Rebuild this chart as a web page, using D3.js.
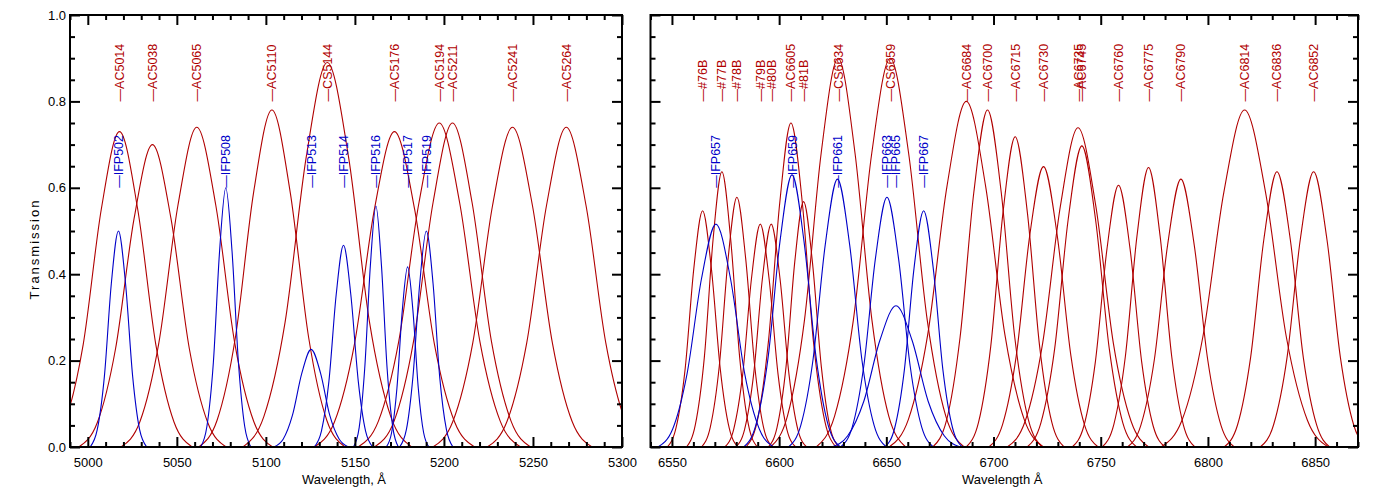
<!DOCTYPE html>
<html>
<head>
<meta charset="utf-8">
<script src="https://cdn.jsdelivr.net/npm/d3@7"></script>
<style>
    body { margin: 0; background: #fff; }
    svg { display: block; font-family: 'Liberation Sans', Arial, sans-serif; }
    .tick text { font-size: 13px; fill: #000; }
    .tick line { stroke: #000; stroke-width: 2; }
    .label { font-size: 12.5px; }
    .title { font-size: 13px; fill: #000; }
</style>
</head>
<body>
<svg id="chart" width="1400" height="500"></svg>
<script>
const yTicks = [0, 0.2, 0.4, 0.6, 0.8, 1.0];
const leftTicks = [5000, 5050, 5100, 5150, 5200, 5250, 5300];
const rightTicks = [6550, 6600, 6650, 6700, 6750, 6800, 6850];

const leftFilters = ['AC5014', 'AC5038', 'AC5065', 'AC5110', 'CS5144', 'AC5176', 'AC5194', 'AC5211', 'AC5241', 'AC5264',
    'IFP502', 'IFP508', 'IFP513', 'IFP514', 'IFP516', 'IFP517', 'IFP519'];
const leftWave = [
    [4977.0, 4987.2, 4997.4, 5007.6, 5017.8, 5028.0, 5038.2, 5048.4, 5058.6],
    [4994.9, 5005.3, 5015.6, 5026.0, 5036.3, 5046.7, 5057.0, 5067.4, 5077.7],
    [5018.6, 5029.3, 5039.9, 5050.6, 5061.2, 5071.9, 5082.5, 5093.2, 5103.8],
    [5062.3, 5072.6, 5082.9, 5093.1, 5103.4, 5113.7, 5124.0, 5134.2, 5144.5],
    [5087.1, 5098.9, 5110.8, 5122.7, 5134.5, 5146.4, 5158.2, 5170.1, 5181.9],
    [5127.2, 5138.5, 5149.7, 5161.0, 5172.2, 5183.5, 5194.7, 5206.0, 5217.2],
    [5151.8, 5163.2, 5174.6, 5186.0, 5197.4, 5208.8, 5220.2, 5231.6, 5243.0],
    [5161.0, 5172.0, 5182.9, 5193.9, 5204.8, 5215.8, 5226.7, 5237.7, 5248.6],
    [5193.8, 5205.0, 5216.2, 5227.3, 5238.5, 5249.7, 5260.9, 5272.0, 5283.2],
    [5224.3, 5235.4, 5246.5, 5257.6, 5268.7, 5279.8, 5290.9, 5302.0, 5313.1],
    [5001.3, 5005.3, 5009.3, 5013.2, 5017.2, 5021.2, 5025.2, 5029.1, 5033.1],
    [5063.4, 5066.9, 5070.5, 5074.0, 5077.5, 5081.0, 5084.6, 5088.1, 5091.6],
    [5104.4, 5109.7, 5114.9, 5120.2, 5125.4, 5130.7, 5135.9, 5141.2, 5146.4],
    [5127.1, 5131.2, 5135.4, 5139.5, 5143.6, 5147.7, 5151.9, 5156.0, 5160.1],
    [5149.2, 5152.4, 5155.5, 5158.7, 5161.8, 5164.9, 5168.1, 5171.3, 5174.4],
    [5167.6, 5170.6, 5173.6, 5176.6, 5179.6, 5182.6, 5185.6, 5188.6, 5191.6],
    [5175.1, 5178.9, 5182.6, 5186.4, 5190.1, 5193.9, 5197.6, 5201.4, 5205.1]
];
const leftTrans = [
    [0, 0.058, 0.237, 0.551, 0.73, 0.551, 0.237, 0.058, 0],
    [0, 0.056, 0.228, 0.529, 0.70, 0.529, 0.228, 0.056, 0],
    [0, 0.059, 0.241, 0.559, 0.74, 0.559, 0.241, 0.059, 0],
    [0, 0.062, 0.254, 0.589, 0.78, 0.589, 0.254, 0.062, 0],
    [0, 0.071, 0.289, 0.672, 0.89, 0.672, 0.289, 0.071, 0],
    [0, 0.058, 0.237, 0.551, 0.73, 0.551, 0.237, 0.058, 0],
    [0, 0.060, 0.244, 0.566, 0.75, 0.566, 0.244, 0.060, 0],
    [0, 0.060, 0.244, 0.566, 0.75, 0.566, 0.244, 0.060, 0],
    [0, 0.059, 0.241, 0.559, 0.74, 0.559, 0.241, 0.059, 0],
    [0, 0.059, 0.241, 0.559, 0.74, 0.559, 0.241, 0.059, 0],
    [0, 0.040, 0.163, 0.378, 0.50, 0.378, 0.163, 0.040, 0],
    [0, 0.048, 0.195, 0.453, 0.60, 0.453, 0.195, 0.048, 0],
    [0, 0.018, 0.073, 0.171, 0.226, 0.171, 0.073, 0.018, 0],
    [0, 0.037, 0.152, 0.353, 0.467, 0.353, 0.152, 0.037, 0],
    [0, 0.045, 0.181, 0.421, 0.558, 0.421, 0.181, 0.045, 0],
    [0, 0.033, 0.136, 0.315, 0.417, 0.315, 0.136, 0.033, 0],
    [0, 0.040, 0.163, 0.378, 0.50, 0.378, 0.163, 0.040, 0]
];

const rightFilters = ['#76B', '#77B', '#78B', '#79B', '#80B', 'AC6605', '#81B', 'CS6634', 'CS6659', 'AC6684', 'AC6700',
    'AC6715', 'AC6730', 'AC6735', 'AC6745', 'AC6760', 'AC6775', 'AC6790', 'AC6814', 'AC6836', 'AC6852',
    'IFP657', 'IFP659', 'IFP661', 'IFP663', 'IFP665', 'IFP667'];
const rightWave = [
    [6547.8, 6551.9, 6556.1, 6560.2, 6564.3, 6568.4, 6572.6, 6576.7, 6580.8],
    [6556.8, 6560.9, 6565.1, 6569.2, 6573.3, 6577.4, 6581.6, 6585.7, 6589.8],
    [6563.8, 6567.9, 6572.1, 6576.2, 6580.3, 6584.4, 6588.6, 6592.7, 6596.8],
    [6574.7, 6578.8, 6583.0, 6587.1, 6591.2, 6595.3, 6599.5, 6603.6, 6607.7],
    [6579.8, 6583.9, 6588.1, 6592.2, 6596.3, 6600.4, 6604.6, 6608.7, 6612.8],
    [6584.5, 6589.8, 6595.0, 6600.3, 6605.5, 6610.8, 6616.0, 6621.3, 6626.5],
    [6594.9, 6599.0, 6603.2, 6607.3, 6611.4, 6615.5, 6619.7, 6623.8, 6627.9],
    [6596.0, 6603.9, 6611.8, 6619.6, 6627.5, 6635.4, 6643.3, 6651.1, 6659.0],
    [6617.3, 6625.9, 6634.6, 6643.2, 6651.8, 6660.4, 6669.1, 6677.7, 6686.3],
    [6651.3, 6660.3, 6669.3, 6678.3, 6687.3, 6696.3, 6705.3, 6714.3, 6723.3],
    [6671.7, 6678.1, 6684.4, 6690.8, 6697.2, 6703.6, 6709.9, 6716.3, 6722.7],
    [6687.3, 6693.0, 6698.7, 6704.4, 6710.1, 6715.8, 6721.5, 6727.2, 6732.9],
    [6697.8, 6704.2, 6710.6, 6716.9, 6723.3, 6729.7, 6736.1, 6742.4, 6748.8],
    [6706.4, 6714.7, 6722.9, 6731.2, 6739.4, 6747.7, 6755.9, 6764.2, 6772.4],
    [6715.7, 6722.1, 6728.5, 6734.8, 6741.2, 6747.6, 6754.0, 6760.3, 6766.7],
    [6736.7, 6742.1, 6747.5, 6752.9, 6758.3, 6763.7, 6769.1, 6774.5, 6779.9],
    [6750.7, 6756.1, 6761.5, 6766.9, 6772.3, 6777.7, 6783.1, 6788.5, 6793.9],
    [6762.5, 6768.7, 6775.0, 6781.2, 6787.4, 6793.6, 6799.9, 6806.1, 6812.3],
    [6778.1, 6787.9, 6797.6, 6807.4, 6817.1, 6826.9, 6836.6, 6846.4, 6856.1],
    [6807.6, 6813.8, 6819.9, 6826.1, 6832.2, 6838.4, 6844.5, 6850.7, 6856.8],
    [6824.4, 6830.6, 6836.9, 6843.1, 6849.3, 6855.5, 6861.8, 6868.0, 6874.2],
    [6543.5, 6550.3, 6557.0, 6563.8, 6570.5, 6577.3, 6584.0, 6590.8, 6597.5],
    [6583.5, 6589.1, 6594.8, 6600.4, 6606.0, 6611.6, 6617.3, 6622.9, 6628.5],
    [6604.4, 6610.1, 6615.8, 6621.5, 6627.2, 6632.9, 6638.6, 6644.3, 6650.0],
    [6628.7, 6634.1, 6639.5, 6644.9, 6650.3, 6655.7, 6661.1, 6666.5, 6671.9],
    [6624.5, 6632.0, 6639.5, 6647.0, 6654.5, 6662.0, 6669.5, 6677.0, 6684.5],
    [6649.4, 6653.9, 6658.4, 6662.9, 6667.4, 6671.9, 6676.4, 6680.9, 6685.4]
];
const rightTrans = [
    [0, 0.044, 0.178, 0.413, 0.547, 0.413, 0.178, 0.044, 0],
    [0, 0.051, 0.207, 0.481, 0.637, 0.481, 0.207, 0.051, 0],
    [0, 0.046, 0.188, 0.436, 0.578, 0.436, 0.188, 0.046, 0],
    [0, 0.041, 0.168, 0.390, 0.516, 0.390, 0.168, 0.041, 0],
    [0, 0.041, 0.168, 0.390, 0.516, 0.390, 0.168, 0.041, 0],
    [0, 0.060, 0.244, 0.566, 0.75, 0.566, 0.244, 0.060, 0],
    [0, 0.045, 0.185, 0.429, 0.568, 0.429, 0.185, 0.045, 0],
    [0, 0.072, 0.293, 0.680, 0.90, 0.680, 0.293, 0.072, 0],
    [0, 0.072, 0.293, 0.680, 0.90, 0.680, 0.293, 0.072, 0],
    [0, 0.064, 0.260, 0.604, 0.80, 0.604, 0.260, 0.064, 0],
    [0, 0.062, 0.254, 0.589, 0.78, 0.589, 0.254, 0.062, 0],
    [0, 0.057, 0.233, 0.542, 0.718, 0.542, 0.233, 0.057, 0],
    [0, 0.052, 0.211, 0.490, 0.649, 0.490, 0.211, 0.052, 0],
    [0, 0.059, 0.240, 0.558, 0.739, 0.558, 0.240, 0.059, 0],
    [0, 0.056, 0.227, 0.526, 0.697, 0.526, 0.227, 0.056, 0],
    [0, 0.048, 0.197, 0.458, 0.606, 0.458, 0.197, 0.048, 0],
    [0, 0.052, 0.210, 0.488, 0.647, 0.488, 0.210, 0.052, 0],
    [0, 0.050, 0.202, 0.468, 0.62, 0.468, 0.202, 0.050, 0],
    [0, 0.062, 0.254, 0.589, 0.78, 0.589, 0.254, 0.062, 0],
    [0, 0.051, 0.207, 0.481, 0.637, 0.481, 0.207, 0.051, 0],
    [0, 0.051, 0.207, 0.481, 0.637, 0.481, 0.207, 0.051, 0],
    [0, 0.041, 0.168, 0.390, 0.516, 0.390, 0.168, 0.041, 0],
    [0, 0.050, 0.205, 0.476, 0.63, 0.476, 0.205, 0.050, 0],
    [0, 0.050, 0.202, 0.468, 0.62, 0.468, 0.202, 0.050, 0],
    [0, 0.046, 0.188, 0.436, 0.578, 0.436, 0.188, 0.046, 0],
    [0, 0.026, 0.106, 0.247, 0.327, 0.247, 0.106, 0.026, 0],
    [0, 0.044, 0.178, 0.413, 0.547, 0.413, 0.178, 0.044, 0]
];

const red = '#b00000';
const blue = '#0000c8';
const plotTop = 15;
const plotBottom = 447;

const panels = [
    {names: leftFilters, wave: leftWave, trans: leftTrans, domain: [4990, 5300], range: [70, 622],
        ticks: leftTicks, title: 'Wavelength, Å', yLabels: true},
    {names: rightFilters, wave: rightWave, trans: rightTrans, domain: [6540, 6870], range: [650.5, 1358],
        ticks: rightTicks, title: 'Wavelength Å', yLabels: false}
];

const chart = d3.select('#chart');
const y = d3.scaleLinear().domain([0, 1]).range([plotBottom, plotTop]);
const yMinor = d3.range(1, 20).filter(i => i % 4 !== 0).map(i => i * 0.05);
const isBlue = name => name.startsWith('IFP');

panels.forEach((p, k) => {
    const x = d3.scaleLinear().domain(p.domain).range(p.range);
    const xMinor = d3.range(Math.ceil(p.domain[0] / 10) * 10, p.domain[1] + 0.1, 10)
        .filter(v => !p.ticks.includes(v));
    const g = chart.append('g');

    g.append('clipPath')
        .attr('id', `clip${k}`)
        .append('rect')
        .attr('x', p.range[0])
        .attr('y', plotTop)
        .attr('width', p.range[1] - p.range[0])
        .attr('height', plotBottom - plotTop);

    const line = d3.line()
        .x(d => x(d[0]))
        .y(d => y(d[1]))
        .curve(d3.curveMonotoneX);

    const curves = p.names.map((name, i) => ({
        name: name,
        pts: p.wave[i].map((w, j) => [w, p.trans[i][j]])
    }));
    const order = curves.filter(c => !isBlue(c.name)).concat(curves.filter(c => isBlue(c.name)));

    g.append('g')
        .attr('clip-path', `url(#clip${k})`)
        .selectAll('path')
        .data(order)
        .enter().append('path')
        .attr('d', c => line(c.pts))
        .attr('fill', 'none')
        .attr('stroke', c => isBlue(c.name) ? blue : red)
        .attr('stroke-width', 1.1);

    g.selectAll('text.label')
        .data(order)
        .enter().append('text')
        .classed('label', true)
        .attr('transform', c => {
            const peak = c.pts[d3.greatestIndex(c.pts, d => d[1])];
            return `translate(${x(peak[0]) + 4.5},${y(isBlue(c.name) ? 0.6 : 0.8)}) rotate(-90)`;
        })
        .attr('fill', c => isBlue(c.name) ? blue : red)
        .text(c => '\u2014' + c.name);

    const addAxis = (axis, transform) => g.append('g')
        .attr('transform', transform)
        .call(axis)
        .call(a => a.select('.domain').remove());

    addAxis(d3.axisBottom(x).tickValues(p.ticks).tickSize(-10).tickPadding(11).tickFormat(d3.format('d')),
        `translate(0,${plotBottom})`);
    addAxis(d3.axisBottom(x).tickValues(xMinor).tickSize(-5).tickFormat(''), `translate(0,${plotBottom})`);
    addAxis(d3.axisTop(x).tickValues(p.ticks).tickSize(-10).tickFormat(''), `translate(0,${plotTop})`);
    addAxis(d3.axisTop(x).tickValues(xMinor).tickSize(-5).tickFormat(''), `translate(0,${plotTop})`);
    addAxis(d3.axisLeft(y).tickValues(yTicks).tickSize(-10).tickPadding(4)
        .tickFormat(p.yLabels ? d3.format('.1f') : ''), `translate(${p.range[0]},0)`);
    addAxis(d3.axisLeft(y).tickValues(yMinor).tickSize(-5).tickFormat(''), `translate(${p.range[0]},0)`);
    addAxis(d3.axisRight(y).tickValues(yTicks).tickSize(-10).tickFormat(''), `translate(${p.range[1]},0)`);
    addAxis(d3.axisRight(y).tickValues(yMinor).tickSize(-5).tickFormat(''), `translate(${p.range[1]},0)`);

    g.append('rect')
        .attr('x', p.range[0])
        .attr('y', plotTop)
        .attr('width', p.range[1] - p.range[0])
        .attr('height', plotBottom - plotTop)
        .attr('fill', 'none')
        .attr('stroke', '#000')
        .attr('stroke-width', 2);

    g.append('text')
        .classed('title', true)
        .attr('x', (p.range[0] + p.range[1]) / 2 - 2)
        .attr('y', 484)
        .attr('text-anchor', 'middle')
        .text(p.title);
});

chart.append('text')
    .classed('title', true)
    .attr('transform', 'translate(39,249) rotate(-90)')
    .attr('text-anchor', 'middle')
    .style('letter-spacing', '2px')
    .text('Transmission');
</script>
</body>
</html>
